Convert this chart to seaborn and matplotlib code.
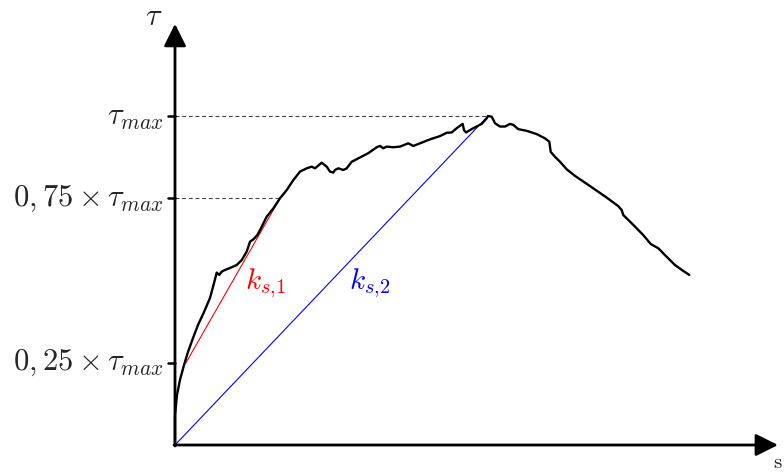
import matplotlib
matplotlib.use("Agg")
import matplotlib.pyplot as plt
import seaborn as sns
import pandas as pd

# Shear stress tau (% of tau_max) versus slip s (arbitrary units)
slip = [0, 0, 2, 5, 9, 13, 18, 23, 29, 35, 39, 41.7, 44.3, 46.7, 50, 55, 61.7,
        66.7, 71.7, 75, 78.3, 82.3, 85, 91.7, 98.3, 105, 111.7, 118.3, 125,
        131.7, 136.7, 140, 146.7, 151.7, 155, 158.3, 160, 163.3, 168.3, 171.7,
        176.7, 185, 193.3, 201.7, 205, 208.3, 211.7, 218.3, 225, 233.3, 238.3,
        245, 255, 265, 271.7, 276.7, 281.7, 287.7, 289, 291, 298.3, 306.7,
        311.7, 313, 316.7, 320, 325, 330, 335, 338.3, 343.3, 351.7, 361.7,
        370, 374.3, 375.7, 380, 385, 391.7, 400, 415, 431.7, 443.3, 446.7,
        448.3, 458.3, 468.3, 475.7, 483.3, 491.7, 500, 508.3, 514.3]
tau = [0, 9.1, 15.2, 19.8, 24.3, 28.3, 32.5, 36.5, 40.4, 44.7, 49.2, 52.4,
       51.7, 52.7, 53.2, 53.8, 54.7, 56.2, 58.8, 61.8, 62.5, 63.8, 65.3, 69.4,
       71.9, 75.0, 77.5, 80.5, 83.1, 84.1, 84.6, 84.1, 85.8, 84.6, 83.1, 82.8,
       83.6, 84.1, 83.6, 84.1, 86.1, 87.4, 88.7, 90.5, 90.9, 90.2, 90.7, 90.5,
       90.7, 91.7, 90.9, 91.7, 92.9, 93.9, 94.9, 95.0, 96.3, 97.6, 95.7, 95.0,
       96.3, 97.6, 99.3, 100, 99.8, 97.8, 96.8, 96.8, 97.6, 97.3, 96.0, 95.5,
       94.5, 93.2, 92.2, 89.1, 87.6, 86.1, 83.8, 81.8, 78.7, 75.2, 72.6, 71.4,
       69.9, 66.9, 63.8, 61.1, 59.8, 57.2, 54.7, 52.9, 51.7]

# Reference levels and secant stiffness lines
tau_levels = [25, 75, 100]
tick_labels = [r"$0,25\times\tau_{max}$", r"$0,75\times\tau_{max}$", r"$\tau_{max}$"]
s_at_25, s_at_75, s_at_max = 11, 105, 313
ks1_s = [s_at_25, s_at_75]
ks1_tau = [25, 75]
ks2_s = [0, s_at_max]
ks2_tau = [0, 100]

sns.set_theme(style="white")
plt.rcParams["mathtext.fontset"] = "cm"
plt.rcParams["font.family"] = ["DejaVu Serif", "DejaVu Sans"]

fig = plt.figure(figsize=(7.84, 4.76), dpi=100)
ax = fig.add_axes([0, 0, 1, 1])
ax.set_xlim(-175, 609)
ax.set_ylim(-9.42, 135.26)

# dashed guides to tau_max and 0.75 tau_max
ax.plot([0, s_at_max], [100, 100], ls=(0, (3.5, 2.5)), color="#444444", lw=0.8)
ax.plot([0, s_at_75], [75, 75], ls=(0, (3.5, 2.5)), color="#444444", lw=0.8)

sns.lineplot(x=ks1_s, y=ks1_tau, color="red", lw=0.8, ax=ax, sort=False)
sns.lineplot(x=ks2_s, y=ks2_tau, color="blue", lw=0.8, ax=ax, sort=False)

df = pd.DataFrame({"s": slip, "tau": tau})
sns.lineplot(data=df, x="s", y="tau", color="black", lw=1.7, ax=ax,
             sort=False, estimator=None)
ax.set_xlabel("")
ax.set_ylabel("")

# axes with arrow heads
for sp in ax.spines.values():
    sp.set_visible(False)
ax.annotate("", xy=(0, 128.0), xytext=(0, -0.3),
            arrowprops=dict(arrowstyle="-|>", lw=2, color="black",
                            mutation_scale=34, shrinkA=0, shrinkB=0))
ax.annotate("", xy=(603, 0), xytext=(-1, 0),
            arrowprops=dict(arrowstyle="-|>", lw=2, color="black",
                            mutation_scale=34, shrinkA=0, shrinkB=0))

ax.set_xticks([])
ax.set_yticks([])
for lvl, lab in zip(tau_levels, tick_labels):
    ax.plot([-7, 0], [lvl, lvl], color="black", lw=1.8)
    ax.text(-11, lvl, lab, ha="right", va="center", fontsize=22)

ax.text(-21, 130.2, r"$\tau$", ha="center", va="center", fontsize=22)
ax.text(607.5, -5.2, r"$\mathrm{s}$", ha="right", va="center", fontsize=15)

ax.text(91, 49.2, r"$k_{s{,}1}$", color="red", ha="center", va="center", fontsize=21)
ax.text(195, 49.2, r"$k_{s{,}2}$", color="blue", ha="center", va="center", fontsize=21)

fig.savefig("out.png", dpi=100)
